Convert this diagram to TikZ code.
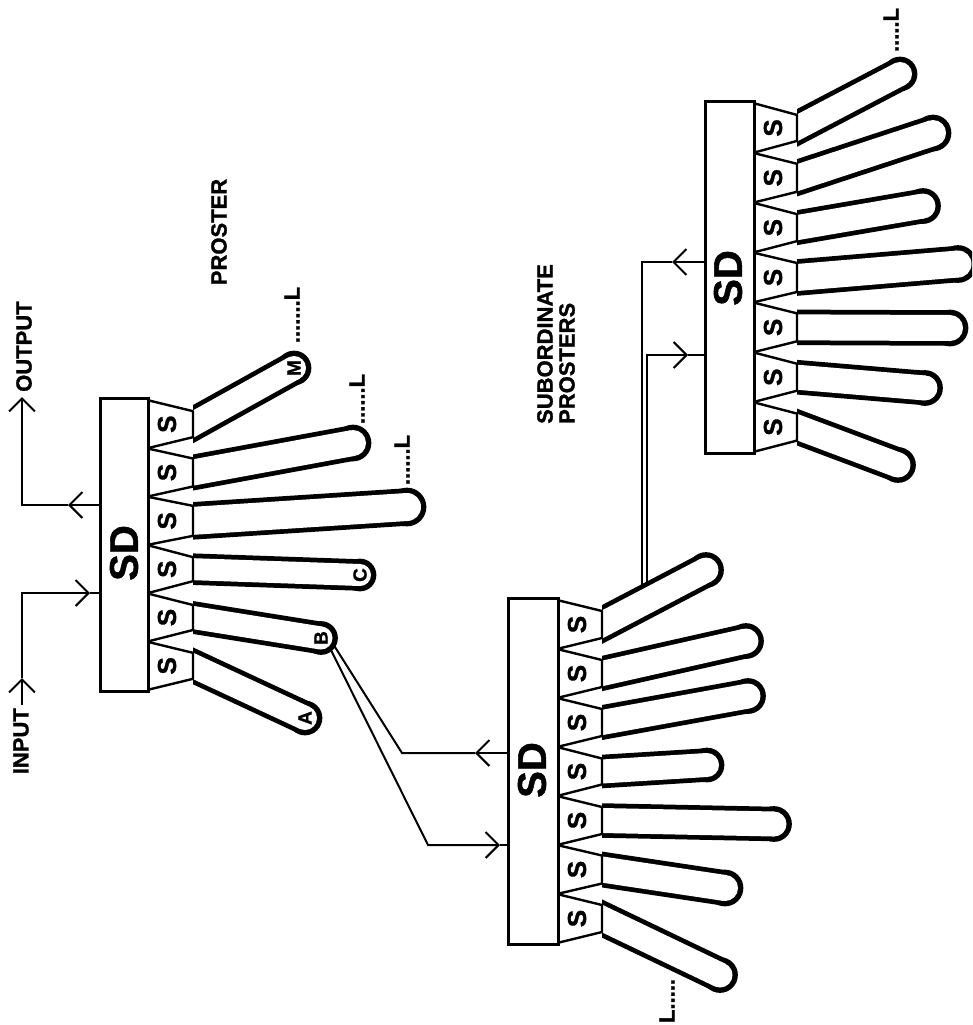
\documentclass[tikz,border=0pt]{standalone}
\usepackage{fontspec}
\setmainfont{Liberation Sans}[BoldFeatures={FakeBold=1.2}]
\usetikzlibrary{calc,arrows.meta}
% finger + S cell: #1 name, #2 bar right x, #3 cell outer x, #4 bar top y, #5 step, #6 index, #7 end x, #8 end y, #9 width
\newcommand\pfinger[9]{%
  \pgfmathsetmacro\ya{#4+#6*#5}%
  \pgfmathsetmacro\yb{\ya+#5}%
  \pgfmathsetmacro\yc{\ya+#5/2}%
  \pgfmathsetmacro\wo{#9+9.5}%
  \pgfmathsetmacro\hh{#9/2+1}%
  \coordinate (#1c) at (#3,\yc);
  \coordinate (#1) at (#7,#8);
  \begin{scope}
    \clip (#3,0) rectangle (972,1025);
    \draw[line width=\wo pt] ($(#1c)!-0.3!(#1)$) -- (#1);
    \fill (#1) circle[radius=\wo/2+0.6];
    \draw[white,line width=#9pt] ($(#1c)!-0.3!(#1)$) -- (#1);
    \fill[white] (#1) circle[radius=#9/2];
  \end{scope}
  \draw[cellbox] (#2,\ya) -- (#3,{\yc-\hh}) -- (#3,{\yc+\hh}) -- (#2,\yb) -- cycle;
  \node[slab] (#1s) at ({#2+20},\yc) {S};
}
\begin{document}
\begin{tikzpicture}[x=1pt,y=-1pt,
  conn/.style={line width=2pt},
  tipconn/.style={conn,-{Straight Barb[length=13pt,width=26pt]}},
  cellbox/.style={fill=white,draw=black,line width=2.4pt,line join=round},
  sdbar/.style={fill=white,draw=black,line width=2.6pt,inner sep=0pt},
  lab/.style={rotate=90,inner sep=0pt,font=\bfseries\fontsize{22}{22}\selectfont},
  sdlab/.style={rotate=90,inner sep=0pt,font=\bfseries\fontsize{40}{40}\selectfont},
  slab/.style={rotate=90,inner sep=0pt,font=\bfseries\fontsize{26}{26}\selectfont},
  tiplab/.style={rotate=90,inner sep=0pt,font=\bfseries\fontsize{19}{19}\selectfont},
]
\useasboundingbox[fill=white] (0,0) rectangle (972,1025);

% bars (positions only, drawn later)
\path node[sdbar,draw=none,fill=none,minimum width=45pt,minimum height=290pt] (sd1) at (124.5,545) {};
\path node[sdbar,draw=none,fill=none,minimum width=47pt,minimum height=343pt] (sd2) at (533.5,771.5) {};
\path node[sdbar,draw=none,fill=none,minimum width=46pt,minimum height=349pt] (sd3) at (730,277.5) {};

% ---- connectors of the proster
\coordinate (inS) at (22,705);
\coordinate (inA) at (22,678);
\coordinate (inC) at (22,593);
\coordinate (inB) at (90,593);
\draw[tipconn] (inS) -- (inA);
\draw[tipconn] (inA) -- (inC) -- (inB);
\draw[conn] (inB) -- (inB -| sd1.west);
\coordinate (oA) at (68,505);
\coordinate (oC) at (22,505);
\coordinate (oB) at (22,397);
\draw[tipconn] (oA -| sd1.west) -- (oA);
\draw[tipconn] (oA) -- (oC) -- (oB);

% ---- B to second SD
\coordinate (b1) at (325.5,639);
\coordinate (b2) at (329.6,638.5);
\coordinate (k1) at (402,753);
\coordinate (t1) at (475,753);
\draw[tipconn] (t1 -| sd2.west) -- (t1);
\draw[conn] (t1) -- (k1) -- (b2);
\coordinate (k2) at (428,845);
\coordinate (t2) at (500,845);
\draw[tipconn] (b1) -- (k2) -- (t2);
\draw[conn] (t2) -- (t2 -| sd2.west);

% ---- second to third SD
\coordinate (v1) at (642,600);
\coordinate (v1t) at (642,262);
\coordinate (t3) at (672,262);
\draw[tipconn] (t3 -| sd3.west) -- (t3);
\draw[conn] (t3) -- (v1t) -- (v1);
\coordinate (v2) at (647,600);
\coordinate (v2t) at (647,355);
\coordinate (t4) at (688,355);
\draw[tipconn] (v2) -- (v2t) -- (t4);
\draw[conn] (t4) -- (t4 -| sd3.west);

% ---- fingers and S cells
\foreach \i/\ex/\ey/\w in {0/294/368/24,1/353/443/26,2/407/507/28,3/360/575/22,4/321/638/23,5/305/718/24}
  {\pfinger{p1f\i}{147}{193}{400}{48.333}{\i}{\ex}{\ey}{\w}}
\foreach \i/\ex/\ey/\w in {0/706/570/25,1/746/641/25,2/748/696/25,3/707/765/24,4/774/824/25,5/725/888/26,6/720/975/25}
  {\pfinger{p2f\i}{557}{602}{600}{49}{\i}{\ex}{\ey}{\w}}
\foreach \i/\ex/\ey/\w in {0/900/74/24,1/933/133/26,2/923/206/25,3/958/264/27,4/950/328/26,5/925/388/25,6/898/465/25}
  {\pfinger{p3f\i}{753}{797}{103}{49.857}{\i}{\ex}{\ey}{\w}}

% ---- SD bars
\draw[sdbar] (sd1.north west) rectangle (sd1.south east);
\draw[sdbar] (sd2.north west) rectangle (sd2.south east);
\draw[sdbar] (sd3.north west) rectangle (sd3.south east);
\node[sdlab] (sd1t) at (124,553) {SD};
\node[sdlab] (sd2t) at (532,770) {SD};
\node[sdlab] (sd3t) at (728,278) {SD};

% ---- letters at finger ends
\node[tiplab] (la) at (p1f0) {M};
\node[tiplab] at (p1f3) {C};
\node[tiplab] at (p1f4) {B};
\node[tiplab] at (p1f5) {A};

% ---- labels
\node[lab,anchor=east] (inputt) at (21,708) {INPUT};
\node[lab,anchor=west] (outputt) at (24,392) {OUTPUT};
\node[lab] (prost) at (219,232) {PROSTER};
\node[lab,align=left] (subp) at (556,344) {SUBORDINATE\\PROSTERS};
\node[lab] (l1) at (292,315) {.......L};
\node[lab] (l2) at (357,399) {......L};
\node[lab] (l3) at (402,460) {......L};
\node[lab] (l4) at (891,30) {.....L};
\node[lab] (l5) at (667,1001) {L.....};
\end{tikzpicture}
\end{document}
